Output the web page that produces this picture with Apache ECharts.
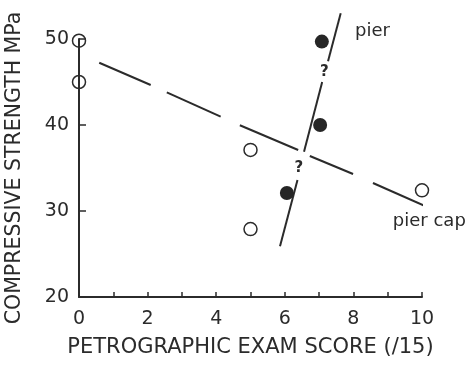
<!DOCTYPE html>
<html><head><meta charset="utf-8">
<script src="https://cdn.jsdelivr.net/npm/echarts@6/dist/echarts.min.js"></script>
<style>html,body{margin:0;padding:0;background:#fff}#c{width:470px;height:368px}</style>
</head><body><div id="c"></div>
<script>
// ---- data ----
const xTickLabels = [0, 2, 4, 6, 8, 10];
const yTickLabels = [20, 30, 40, 50];
const openX = [0, 0, 5, 5, 10];
const openY = [49.8, 45.0, 37.1, 27.9, 32.4];
const filledX = [6.06, 7.03, 7.08];
const filledY = [32.1, 40.0, 49.7];
// pier trend line, broken at the two question marks
const pierSegX = [[5.86, 6.37], [6.56, 7.09], [7.26, 7.63]];
const pierSegY = [[25.9, 33.6], [36.9, 45.0], [47.4, 53.0]];
// pier cap long-dashed trend line (each dash)
const capSegX = [[0.59, 2.09], [2.56, 4.13], [4.69, 6.39], [6.73, 7.99], [8.57, 10.09]];
const capSegY = [[47.24, 44.65], [43.80, 40.97], [39.97, 37.09], [36.40, 34.30], [33.26, 30.58]];
// annotations
const noteX = [7.15, 6.41];
const noteY = [46.1, 35.0];
const noteText = ['?', '?'];
const tagX = [8.05, 9.15];
const tagY = [50.85, 28.75];
const tagText = ['pier', 'pier cap'];

const ink = '#2b2b2b';
const font = 'DejaVu Sans';
const zip = (a, b) => a.map((v, i) => [v, b[i]]);

const series = [];
capSegX.forEach((sx, i) => {
  series.push({
    type: 'line', data: zip(sx, capSegY[i]), symbol: 'none', clip: false, silent: true,
    lineStyle: { color: ink, width: 2 }
  });
});
pierSegX.forEach((sx, i) => {
  series.push({
    type: 'line', data: zip(sx, pierSegY[i]), symbol: 'none', clip: false, silent: true,
    lineStyle: { color: ink, width: 2 }
  });
});
series.push({
  type: 'scatter', data: zip(openX, openY), symbol: 'circle', symbolSize: 13, clip: false,
  itemStyle: { color: 'rgba(255,255,255,0)', borderColor: ink, borderWidth: 1.5, opacity: 1 }, z: 5
});
series.push({
  type: 'scatter', data: zip(filledX, filledY), symbol: 'circle', symbolSize: 14, clip: false,
  itemStyle: { color: '#262626', opacity: 1 }, z: 5
});
series.push({
  type: 'scatter', symbolSize: 0, clip: false, silent: true, itemStyle: { opacity: 1 },
  data: noteX.map((x, i) => ({ value: [x, noteY[i]], name: noteText[i] })),
  label: { show: true, position: 'inside', formatter: p => p.name,
    fontFamily: font, fontSize: 15, fontWeight: 'bold', color: ink }
});
series.push({
  type: 'scatter', symbolSize: 0, clip: false, silent: true, itemStyle: { opacity: 1 },
  data: tagX.map((x, i) => ({ value: [x, tagY[i]], name: tagText[i] })),
  label: { show: true, position: 'right', distance: 0, formatter: p => p.name,
    fontFamily: font, fontSize: 18, color: ink }
});

const chart = echarts.init(document.getElementById('c'), null, { renderer: 'canvas' });
chart.setOption({
  animation: false,
  backgroundColor: '#fff',
  grid: { left: 79, right: 48, top: 39, bottom: 71, outerBoundsMode: 'none' },
  xAxis: {
    type: 'value', min: 0, max: 10, interval: 1,
    name: 'PETROGRAPHIC EXAM SCORE (/15)', nameLocation: 'middle', nameGap: 40,
    nameTextStyle: { fontFamily: font, fontSize: 21, color: ink },
    axisLine: { lineStyle: { color: ink, width: 2 } },
    axisTick: { inside: true, length: 5, lineStyle: { color: ink, width: 1.5 } },
    axisLabel: { fontFamily: font, fontSize: 19, color: ink, margin: 13,
      formatter: v => xTickLabels.indexOf(v) >= 0 ? String(v) : '' },
    splitLine: { show: false }
  },
  yAxis: {
    type: 'value', min: 20, max: 50, interval: 10,
    name: 'COMPRESSIVE STRENGTH MPa', nameLocation: 'middle', nameGap: 54,
    nameTextStyle: { fontFamily: font, fontSize: 20.5, color: ink },
    axisLine: { show: true, lineStyle: { color: ink, width: 2 } },
    axisTick: { show: true, inside: true, length: 7, lineStyle: { color: ink, width: 1.5 } },
    axisLabel: { fontFamily: font, fontSize: 19, color: ink, margin: 10,
      formatter: v => yTickLabels.indexOf(v) >= 0 ? String(v) : '' },
    splitLine: { show: false }
  },
  series: series
});
</script></body></html>
